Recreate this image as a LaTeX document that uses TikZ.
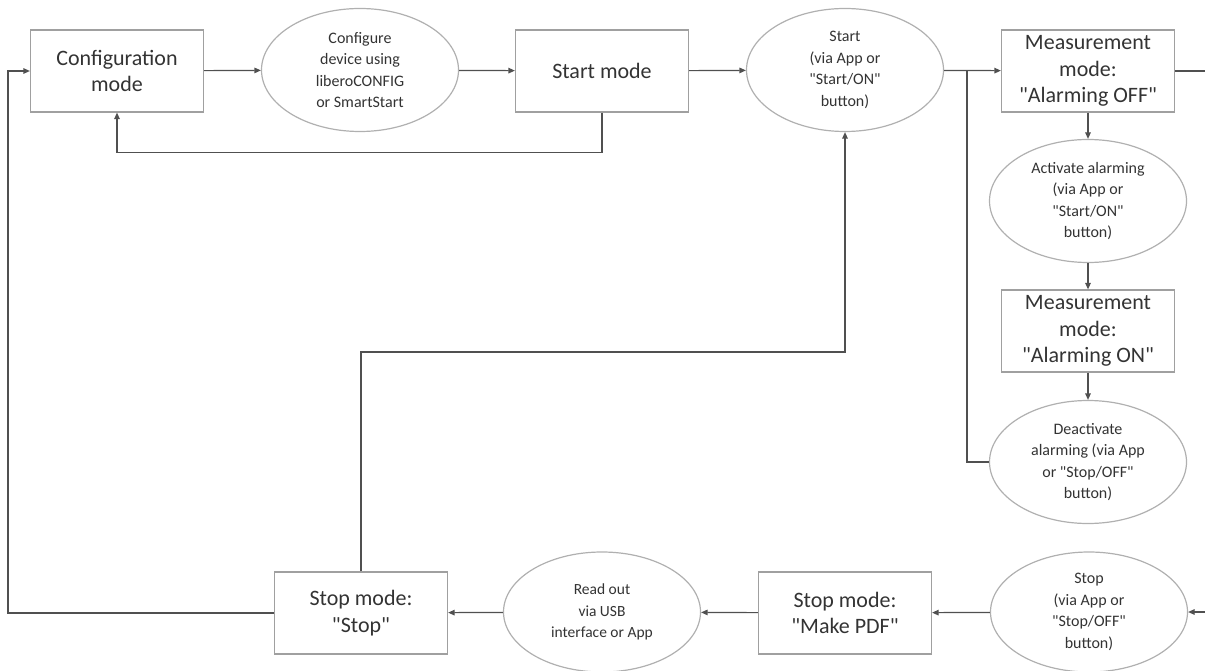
\documentclass[tikz,border=0pt]{standalone}
\usepackage{fontspec}
\setmainfont{Carlito}
\usetikzlibrary{%
  arrows.meta,%
  shapes.geometric,% wg. ellipse
  calc%
}
\definecolor{linegray}{HTML}{505050}
\definecolor{boxgray}{HTML}{A0A0A0}
\definecolor{ellgray}{HTML}{B0B0B0}
\definecolor{textgray}{HTML}{333333}
\newcommand{\qq}{\textquotedbl}

\begin{document}
\begin{tikzpicture}
  [
  x=1pt, y=-1pt, line width=1.2pt, >={Triangle[length=6.5pt,width=5.5pt]},
  modebox/.style={rectangle, draw=boxgray, inner sep=0pt, align=center,
    minimum width=173pt, minimum height=82pt, text=textgray,
    font=\fontsize{22}{26.5}\selectfont},
  eventnode/.style={ellipse, draw=ellgray, inner sep=0pt, align=center,
    minimum width=197pt, minimum height=123pt, text=textgray,
    font=\fontsize{16}{21.5}\selectfont},
  flow/.style={draw=linegray, line width=1.2pt},
  ]
  \useasboundingbox (0,0) rectangle (1205,671);

  % top row
  \node[modebox] (conf) at (117,71) {Configuration\\mode};
  \node[eventnode] (cfgdev) at (360,70) {Configure\\device using\\liberoCONFIG\\or SmartStart};
  \node[modebox] (startmode) at (602,71) {Start mode};
  \node[eventnode] (startev) at (845,70) {Start\\(via App or\\\qq Start/ON\qq\\button)};
  \node[modebox] (moff) at (1088,71) {Measurement\\mode:\\\qq Alarming OFF\qq};

  % right column
  \node[eventnode] (activate) at (1088,201) {Activate alarming\\(via App or\\\qq Start/ON\qq\\button)};
  \node[modebox] (mon) at (1088,331) {Measurement\\mode:\\\qq Alarming ON\qq};
  \node[eventnode] (deact) at (1088,462) {Deactivate\\alarming (via App\\or \qq Stop/OFF\qq\\button)};

  % bottom row
  \node[eventnode, minimum height=120pt] (stopev) at (1089,612) {Stop\\(via App or\\\qq Stop/OFF\qq\\button)};
  \node[modebox] (makepdf) at (845,613) {Stop mode:\\\qq Make PDF\qq};
  \node[eventnode, minimum height=120pt, font=\fontsize{15.5}{21.5}\selectfont] (readout) at (602,612) {Read out\\via USB\\interface or App};
  \node[modebox] (stopbox) at (361,613) {Stop mode:\\\qq Stop\qq};

  % helper points
  \coordinate (junc) at (967,70);
  \coordinate (rtop) at (1205,71);
  \coordinate (rbot) at (1205,612);
  \coordinate (lft) at (8,613);
  \coordinate (mid) at (845,352);

  % connectors
  \draw[flow,->] (conf) -- (cfgdev);
  \draw[flow,->] (cfgdev) -- (startmode);
  \draw[flow,->] (startmode.south) -- ++(0,40) -| (conf.south);
  \draw[flow,->] (startmode) -- (startev);
  \draw[flow,->] (startev) -- (moff);
  \draw[flow] (deact.west) -| (junc);
  \draw[flow] (moff.east) -- (rtop);
  \draw[flow,->] (moff) -- (activate);
  \draw[flow,->] (activate) -- (mon);
  \draw[flow,->] (mon) -- (deact);
  \draw[flow,->] (rbot) -- (stopev.east);
  \draw[flow,->] (stopev) -- (makepdf);
  \draw[flow,->] (makepdf) -- (readout);
  \draw[flow,->] (readout) -- (stopbox);
  \draw[flow,->] (stopbox.west) -- (lft) |- (conf.west);
  \draw[flow,->] (stopbox.north) |- (mid) -- (startev.south);

\end{tikzpicture}
\end{document}
